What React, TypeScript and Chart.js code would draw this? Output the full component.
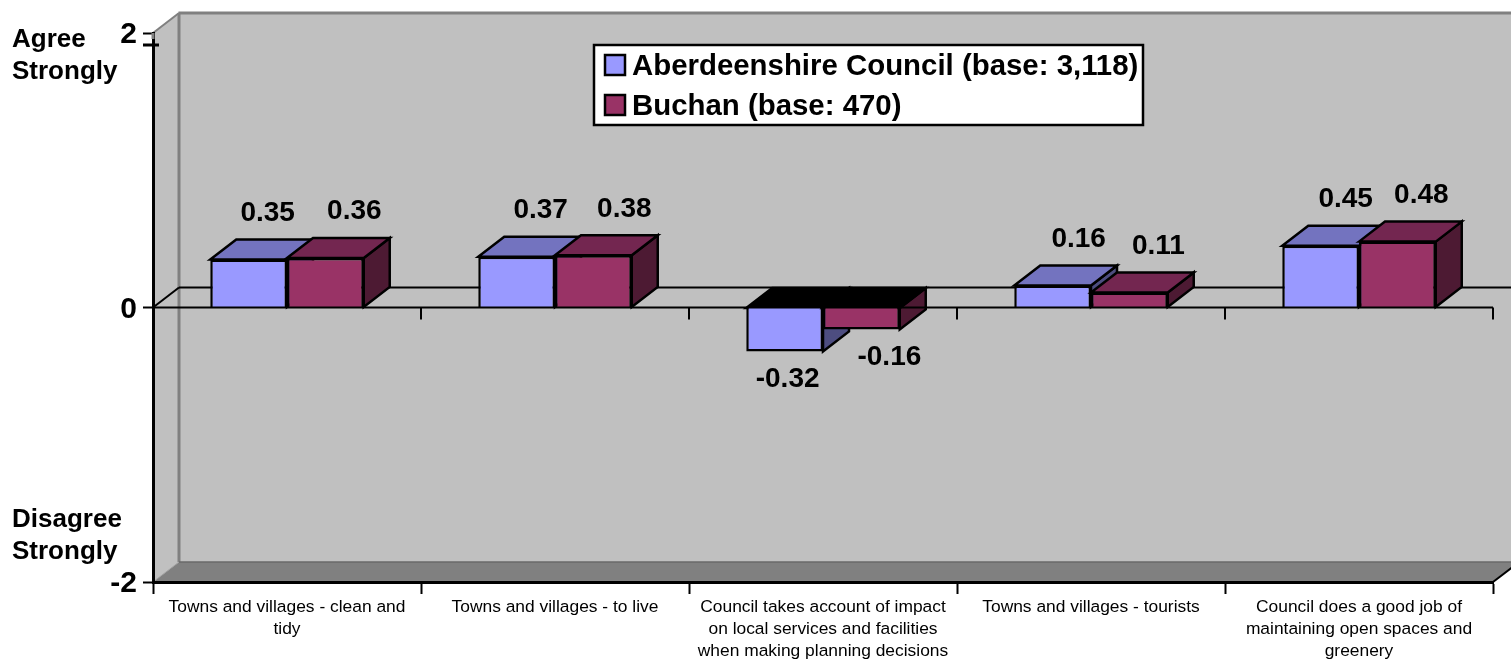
import React, { useEffect, useRef } from "react";
import { Chart, registerables } from "chart.js";

Chart.register(...registerables);

const categories: string[][] = [
  ["Towns and villages - clean and", "tidy"],
  ["Towns and villages - to live"],
  ["Council takes account of impact", "on local services and facilities", "when making planning decisions"],
  ["Towns and villages - tourists"],
  ["Council does a good job of", "maintaining open spaces and", "greenery"],
];
const aberdeenshire = [0.35, 0.37, -0.32, 0.16, 0.45];
const buchan = [0.36, 0.38, -0.16, 0.11, 0.48];
const seriesNames = ["Aberdeenshire Council (base: 3,118)", "Buchan (base: 470)"];
const yTicks = [-2, 0, 2];

// presentation constants
const DX = 26;
const DY = -20;
const FONT = '"Liberation Sans", Arial, sans-serif';
const frontColors = ["#9999ff", "#993366"];
const topColors = ["#7373bf", "#732650"];
const sideColors = ["#4d4d80", "#4d1a33"];
const labelNudgeX = [
  [19, 24, 3, 26, 25],
  [29, 31, 28, 29, 24],
];

function poly(ctx: CanvasRenderingContext2D, pts: number[][], fill: string | null, stroke: string | null, lw = 2) {
  ctx.beginPath();
  pts.forEach((p, i) => (i ? ctx.lineTo(p[0], p[1]) : ctx.moveTo(p[0], p[1])));
  ctx.closePath();
  if (fill) {
    ctx.fillStyle = fill;
    ctx.fill();
  }
  if (stroke) {
    ctx.strokeStyle = stroke;
    ctx.lineWidth = lw;
    ctx.lineJoin = "miter";
    ctx.stroke();
  }
}
function line(ctx: CanvasRenderingContext2D, x1: number, y1: number, x2: number, y2: number, color: string, lw: number) {
  ctx.beginPath();
  ctx.moveTo(x1, y1);
  ctx.lineTo(x2, y2);
  ctx.strokeStyle = color;
  ctx.lineWidth = lw;
  ctx.stroke();
}

function drawFaces(ctx: CanvasRenderingContext2D, meta: any, i: number) {
  ctx.save();
  meta.data.forEach((bar: any) => {
    const p = bar.getProps(["x", "y", "base", "width"], true);
    const l = p.x - p.width / 2;
    const r = p.x + p.width / 2;
    const top = Math.min(p.y, p.base);
    const bottom = Math.max(p.y, p.base);
    const negative = p.y > p.base;
    poly(ctx, [[r, top], [r + DX, top + DY], [r + DX, bottom + DY], [r, bottom]], sideColors[i], "#000", 2.5);
    poly(ctx, [[l, top], [l + DX, top + DY], [r + DX, top + DY], [r, top]], negative ? "#000" : topColors[i], "#000", 2.5);
  });
  ctx.restore();
}

const box3d = {
  id: "box3d",
  beforeDraw(chart: any) {
    const { ctx, chartArea: a, width } = chart;
    ctx.save();
    const r = a.right + DX;
    poly(ctx, [[a.left + DX, a.top + DY], [r, a.top + DY], [r, a.bottom + DY], [a.left + DX, a.bottom + DY]], "#c0c0c0", null);
    poly(ctx, [[a.left, a.top], [a.left + DX, a.top + DY], [a.left + DX, a.bottom + DY], [a.left, a.bottom]], "#c0c0c0", null);
    poly(ctx, [[a.left, a.bottom], [a.left + DX, a.bottom + DY], [r, a.bottom + DY], [a.right, a.bottom]], "#808080", null);
    line(ctx, a.left, a.top, a.left + DX, a.top + DY, "#808080", 2);
    line(ctx, a.left + DX - 0.5, a.top + DY, width, a.top + DY, "#808080", 3);
    line(ctx, a.left + DX, a.top + DY, a.left + DX, a.bottom + DY, "#808080", 3);
    line(ctx, a.left + DX, a.bottom + DY, width, a.bottom + DY, "#6a6a6a", 1.5);
    line(ctx, a.left, a.bottom, a.left + DX, a.bottom + DY, "#a0a0a0", 1);
    line(ctx, a.right, a.bottom, r, a.bottom + DY, "#000", 2);
    const y0 = chart.scales.y.getPixelForValue(0);
    line(ctx, a.left, y0, a.left + DX, y0 + DY, "#000", 2);
    line(ctx, a.left + DX, y0 + DY, width, y0 + DY, "#000", 2);
    ctx.restore();
  },
  // Chart.js paints the last dataset first; the nearer, right-hand series must go on top here.
  beforeDatasetDraw(chart: any, args: any) {
    if (args.index === 1) return false;
    drawFaces(chart.ctx, args.meta, 0);
    return true;
  },
  afterDatasetDraw(chart: any, args: any) {
    if (args.index !== 0) return;
    const meta = chart.getDatasetMeta(1);
    drawFaces(chart.ctx, meta, 1);
    meta.controller.draw();
  },
  afterDatasetsDraw(chart: any) {
    const { ctx, chartArea: a, scales } = chart;
    const y0 = scales.y.getPixelForValue(0);
    ctx.save();
    line(ctx, a.left, y0, a.right, y0, "#000", 2);
    const step = (a.right - a.left) / categories.length;
    for (let i = 1; i <= categories.length; i++) {
      line(ctx, a.left + i * step, y0, a.left + i * step, y0 + 12, "#000", 2);
    }
    ctx.font = `bold 28px ${FONT}`;
    ctx.fillStyle = "#000";
    ctx.textAlign = "center";
    ctx.textBaseline = "middle";
    chart.data.datasets.forEach((ds: any, d: number) => {
      chart.getDatasetMeta(d).data.forEach((bar: any, k: number) => {
        const v = ds.data[k];
        const py = v >= 0 ? bar.y - 46.5 : bar.y + 28;
        ctx.fillText(v.toFixed(2), bar.x + labelNudgeX[d][k], py);
      });
    });
    ctx.restore();
  },
  afterDraw(chart: any) {
    const { ctx, chartArea: a } = chart;
    ctx.save();
    line(ctx, a.left, a.top, a.left, a.top + 6, "#808080", 3);
    line(ctx, a.left - 10, a.top + 12, a.left + 6, a.top + 12, "#000", 3);
    ctx.font = `bold 26px ${FONT}`;
    ctx.fillStyle = "#000";
    ctx.textAlign = "left";
    ctx.textBaseline = "middle";
    ctx.fillText("Agree", 12, 40);
    ctx.fillText("Strongly", 12, 72);
    ctx.fillText("Disagree", 12, 520);
    ctx.fillText("Strongly", 12, 552);
    poly(ctx, [[594, 45], [1143, 45], [1143, 125], [594, 125]], "#fff", "#000", 2.5);
    ctx.font = `bold 29.4px ${FONT}`;
    seriesNames.forEach((name, i) => {
      const y = 65 + i * 40;
      poly(ctx, [[605, y - 10], [625, y - 10], [625, y + 10], [605, y + 10]], frontColors[i], "#000", 2.5);
      ctx.fillStyle = "#000";
      ctx.fillText(name, 632, y + 2);
    });
    ctx.restore();
  },
};

export default function App() {
  const ref = useRef<HTMLCanvasElement | null>(null);
  useEffect(() => {
    document.body.style.margin = "0";
    const chart = new Chart(ref.current as HTMLCanvasElement, {
      type: "bar",
      data: {
        labels: categories as any,
        datasets: [
          { label: seriesNames[0], data: aberdeenshire, backgroundColor: frontColors[0], borderColor: "#000", borderWidth: 2.5 },
          { label: seriesNames[1], data: buchan, backgroundColor: frontColors[1], borderColor: "#000", borderWidth: 2.5 },
        ],
      },
      plugins: [box3d],
      options: {
        responsive: false,
        animation: false,
        events: [],
        layout: { padding: { top: 33, right: 18, left: 0, bottom: 0 } },
        plugins: { legend: { display: false }, tooltip: { enabled: false }, title: { display: false } },
        datasets: { bar: { categoryPercentage: 0.5727, barPercentage: 1 } },
        scales: {
          x: {
            afterFit(s: any) {
              s.height = 79;
            },
            border: { display: true, color: "#000", width: 3 },
            grid: { drawOnChartArea: false, drawTicks: true, tickLength: 12, tickWidth: 2, tickColor: "#000", color: "#000" },
            ticks: {
              autoSkip: false,
              maxRotation: 0,
              minRotation: 0,
              padding: 2,
              color: "#000",
              font: { family: FONT, size: 17.4, lineHeight: 1.264 },
            },
          },
          y: {
            min: -2,
            max: 2,
            afterFit(s: any) {
              s.width = 153;
            },
            afterBuildTicks(s: any) {
              s.ticks = yTicks.map((value) => ({ value }));
            },
            border: { display: true, color: "#000", width: 3 },
            grid: { drawOnChartArea: false, drawTicks: true, tickLength: 10, tickWidth: 2, tickColor: "#000", color: "#000" },
            ticks: {
              padding: 6,
              labelOffset: 2,
              color: "#000",
              font: { family: FONT, size: 30, weight: "bold" },
              callback: (v: any) => String(v),
            },
          },
        },
      } as any,
    });
    return () => chart.destroy();
  }, []);
  return <canvas ref={ref} width={1511} height={661} style={{ display: "block", position: "absolute", left: 0, top: 0 }} />;
}
